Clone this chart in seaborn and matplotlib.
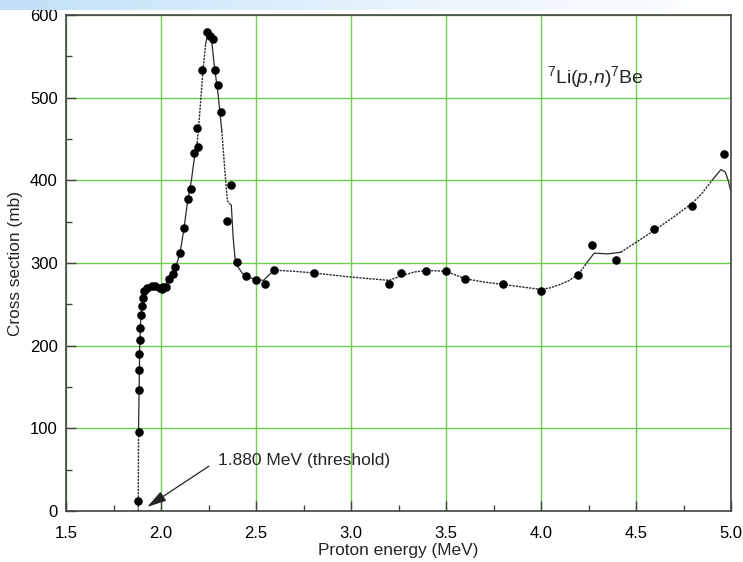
import numpy as np
import pandas as pd
import matplotlib
matplotlib.use("Agg")
import matplotlib.pyplot as plt
import seaborn as sns
from matplotlib.ticker import MultipleLocator
from matplotlib.colors import LinearSegmentedColormap

# measured points
pt_energy = [1.880, 1.882, 1.882, 1.886, 1.886, 1.888, 1.891, 1.895, 1.900, 1.905, 1.912,
             1.926, 1.953, 1.970, 1.993, 2.004, 2.011, 2.026, 2.044, 2.061, 2.075, 2.100,
             2.121, 2.144, 2.158, 2.175, 2.188, 2.196, 2.214, 2.244, 2.258, 2.275, 2.284,
             2.302, 2.316, 2.346, 2.368, 2.400, 2.447, 2.500, 2.547, 2.593, 2.807, 3.198,
             3.263, 3.396, 3.501, 3.598, 3.800, 3.998, 4.197, 4.267, 4.395, 4.595, 4.797, 4.965]
pt_sigma = [12, 95, 146, 171, 190, 207, 221, 237, 248, 258, 266,
            270, 272, 272, 270, 269, 271, 271, 281, 287, 295, 312,
            342, 378, 389, 433, 463, 440, 534, 579, 575, 571, 534,
            515, 483, 351, 394, 301, 284, 279, 274, 292, 288, 275,
            288, 290, 290, 281, 274, 266, 285, 322, 304, 341, 369, 432]

# fitted curve; segment style: 's' solid, 'd' dotted
cv_energy = [1.880, 1.881, 1.882, 1.885, 1.888, 1.893, 1.900, 1.910, 1.925, 1.950, 1.980,
             2.000, 2.020, 2.040, 2.060, 2.080, 2.100, 2.120, 2.140, 2.160, 2.180, 2.190,
             2.200, 2.220, 2.235, 2.245, 2.255, 2.265, 2.280, 2.300, 2.320, 2.340, 2.350,
             2.360, 2.370, 2.380, 2.390, 2.400, 2.430, 2.470, 2.500, 2.540, 2.565, 2.590,
             2.620, 2.700, 2.800, 3.000, 3.200, 3.260, 3.330, 3.400, 3.500, 3.600, 3.700,
             3.800, 3.900, 4.000, 4.050, 4.100, 4.150, 4.200, 4.240, 4.280, 4.350, 4.420,
             4.500, 4.600, 4.700, 4.800, 4.850, 4.900, 4.947, 4.970, 4.985, 5.000]
cv_sigma = [0, 50, 100, 150, 200, 230, 250, 262, 268, 271, 271,
            271, 273, 279, 287, 297, 312, 340, 375, 400, 435, 445,
            470, 530, 565, 577, 578, 572, 540, 505, 460, 400, 375,
            372, 370, 330, 305, 297, 287, 282, 280, 279, 285, 290,
            291, 290, 288, 283, 279, 284, 289, 291, 290, 281, 277,
            274, 271, 268, 270, 274, 279, 287, 300, 312, 311, 313,
            325, 340, 356, 373, 385, 400, 413, 410, 400, 386]
cv_style = ["d", "d", "s", "s", "s", "s", "s", "s", "s", "s", "s",
            "s", "s", "s", "s", "s", "s", "s", "s", "s", "s", "d",
            "d", "d", "s", "s", "s", "s", "s", "s", "d", "d", "d",
            "s", "s", "s", "s", "s", "s", "s", "s", "s", "s", "d",
            "d", "d", "d", "d", "d", "d", "d", "d", "d", "d", "d",
            "d", "d", "d", "d", "d", "d", "d", "s", "s", "s", "d",
            "d", "d", "d", "d", "d", "s", "s", "s", "s", "s"]

x_ticks = [1.5, 2.0, 2.5, 3.0, 3.5, 4.0, 4.5, 5.0]
x_ticklabels = ["1.5", "2.0", "2.5", "3.0", "3.5", "4.0", "4.5", "5.0"]
y_ticks = [0, 100, 200, 300, 400, 500, 600]

pts = pd.DataFrame({"energy": pt_energy, "sigma": pt_sigma})
curve = pd.DataFrame({"energy": cv_energy, "sigma": cv_sigma, "style": cv_style})

sns.set_theme(style="white")
plt.rcParams["font.family"] = ["Liberation Sans", "DejaVu Sans"]
plt.rcParams["mathtext.fontset"] = "custom"
plt.rcParams["mathtext.rm"] = "Liberation Sans"
plt.rcParams["mathtext.it"] = "Liberation Sans:italic"

fig = plt.figure(figsize=(7.43, 5.62), dpi=100)
ax = fig.add_axes([66/743, 1-511/562, (731-66)/743, (511-15)/562])

# top decorative gradient band
band = fig.add_axes([0, 1-10/562, 1, 10/562])
grad = np.linspace(0, 1, 256).reshape(1, -1)
cmap = LinearSegmentedColormap.from_list("b", ["#bfe0f8", "#e6f3fd", "#ffffff"])
band.imshow(grad, aspect="auto", cmap=cmap, extent=[0, 1, 0, 1])
band.axis("off")

# draw curve as contiguous runs of the same style
run_id = (curve["style"] != curve["style"].shift()).cumsum()
for rid, grp in curve.groupby(run_id):
    idx = list(grp.index)
    if idx[-1] + 1 < len(curve):
        idx.append(idx[-1] + 1)
    seg = curve.loc[idx]
    dotted = grp["style"].iloc[0] == "d"
    sns.lineplot(data=seg, x="energy", y="sigma", ax=ax, color="#2a2a2a",
                 linewidth=1.0 if dotted else 0.9, sort=False, estimator=None,
                 linestyle=(0, (1.6, 0.8)) if dotted else "-")

sns.scatterplot(data=pts, x="energy", y="sigma", ax=ax, color="black",
                s=38, edgecolor="black", linewidth=0, zorder=5)

ax.set_xlim(1.5, 5.0)
ax.set_ylim(0, 600)
ax.set_xticks(x_ticks)
ax.set_xticklabels(x_ticklabels)
ax.set_yticks(y_ticks)
ax.xaxis.set_minor_locator(MultipleLocator(0.25))
ax.yaxis.set_minor_locator(MultipleLocator(50))
ax.grid(True, which="major", color="#6fd04f", linewidth=1.0)
ax.set_axisbelow(True)
ax.tick_params(axis="both", which="major", direction="in", labelsize=12,
               colors="#444444", labelcolor="black", length=7, width=1.0,
               bottom=True, left=True)
ax.tick_params(axis="both", which="minor", direction="in",
               colors="#444444", length=4.5, width=1.0, bottom=True, left=True)
ax.tick_params(axis="x", which="major", pad=11)
ax.tick_params(axis="y", which="major", pad=6)
for s in ax.spines.values():
    s.set_color("#444444")
    s.set_linewidth(1.2)

ax.set_xlabel("Proton energy (MeV)", fontsize=12.4, labelpad=1)
ax.set_ylabel("Cross section (mb)", fontsize=12.4, labelpad=5)

ax.text(4.03, 525, r"$^{7}$Li($\mathit{p}$,$\mathit{n}$)$^{7}$Be", fontsize=14,
        ha="left", va="center")

ax.annotate("1.880 MeV (threshold)", xy=(1.928, 5), xytext=(2.30, 61.5),
            fontsize=12.5, ha="left", va="center",
            arrowprops=dict(arrowstyle="-|>,head_length=0.9,head_width=0.25",
                            color="#222222", lw=0.9,
                            mutation_scale=13, shrinkA=5, shrinkB=0,
                            relpos=(0, 0.5)))

fig.savefig("out.png", dpi=100)
